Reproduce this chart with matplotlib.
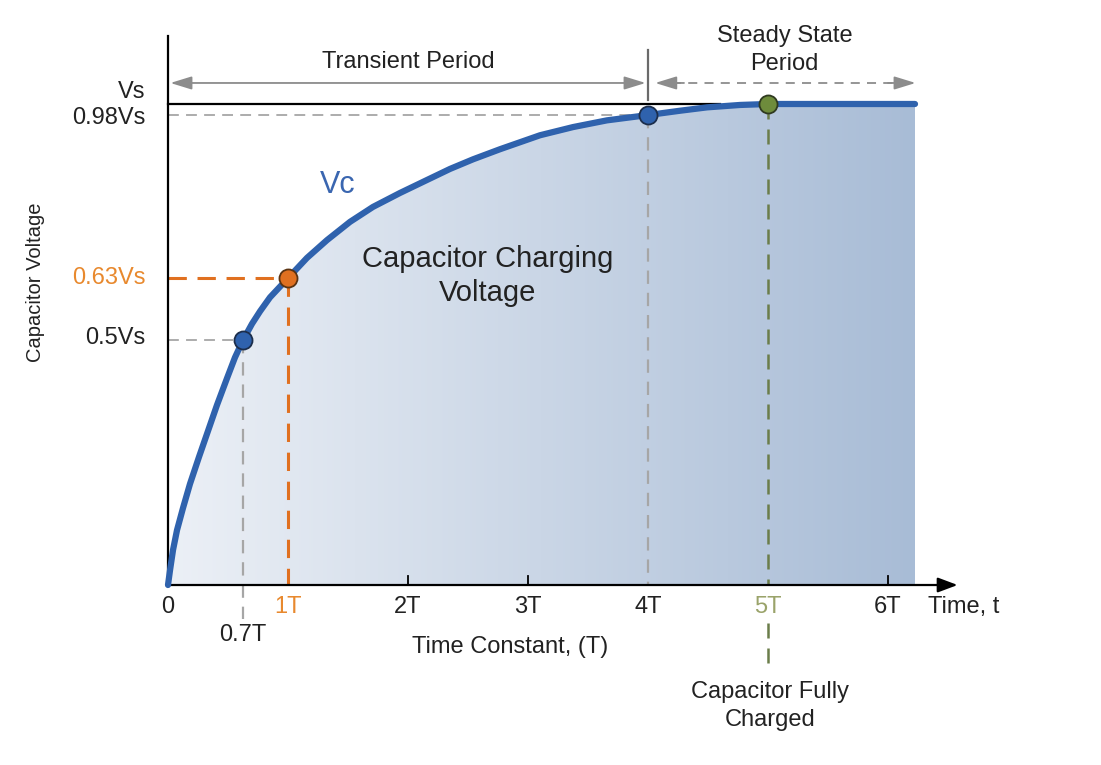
import numpy as np
import matplotlib.pyplot as plt
from matplotlib.patches import Polygon

plt.rcParams["font.family"] = ["Liberation Sans", "DejaVu Sans"]

# curve (time in T, voltage as fraction of Vs)
t_curve = [0.0, 0.017, 0.042, 0.075, 0.125, 0.183, 0.258, 0.333, 0.408,
           0.492, 0.558, 0.625, 0.7, 0.767, 0.85, 1.0, 1.158, 1.325, 1.517,
           1.708, 1.933, 2.158, 2.35, 2.542, 2.767, 3.1, 3.375, 3.658, 4.0,
           4.267, 4.492, 4.767, 5.0, 6.225]
v_curve = [0.0, 0.031, 0.073, 0.114, 0.160, 0.210, 0.266, 0.320, 0.374,
           0.430, 0.473, 0.509, 0.543, 0.569, 0.598, 0.638, 0.680, 0.717,
           0.755, 0.786, 0.815, 0.842, 0.865, 0.885, 0.906, 0.935, 0.952,
           0.966, 0.977, 0.986, 0.993, 0.998, 1.0, 1.0]

# marked points
pt_t = [0.625, 1.0, 4.0, 5.0]
pt_v = [0.509, 0.638, 0.977, 1.0]
pt_colors = ["#2f62ad", "#e07020", "#2f62ad", "#6e8c3c"]
pt_edges = ["#1c2e4c", "#5a3312", "#1c2e4c", "#2f3a20"]

x_ticks = [0, 1, 2, 3, 4, 5, 6]
x_labels = ["0", "1T", "2T", "3T", "4T", "5T", "6T"]
x_label_colors = ["#222222", "#e8892e", "#222222", "#222222", "#222222",
                  "#9aa36a", "#222222"]
y_labels = ["Vs", "0.98Vs", "0.63Vs", "0.5Vs"]
y_label_pos = [1.025, 0.971, 0.638, 0.5135]
y_label_colors = ["#222222", "#222222", "#e8892e", "#222222"]

fig = plt.figure(figsize=(11.01, 7.65), dpi=100)
ax = fig.add_axes([0, 0, 1, 1])
ax.set_xlim(-1.4, 7.775)
ax.set_ylim(-0.3742, 1.2162)
ax.axis("off")

# gradient fill under the curve
grad = np.linspace(0, 1, 256)[None, :]
c0 = np.array([236, 240, 246]) / 255
c1 = np.array([168, 188, 214]) / 255
img = c0 + (c1 - c0) * grad[..., None]
im = ax.imshow(img, extent=[0, t_curve[-1], 0, 1.0], aspect="auto",
               origin="lower", zorder=1)
poly = Polygon(list(zip(t_curve, v_curve)) + [(t_curve[-1], 0), (0, 0)],
               closed=True, facecolor="none", edgecolor="none")
ax.add_patch(poly)
im.set_clip_path(poly)

gray = "#a6a6a6"
# Vs level line and 0.98 dashed line
ax.plot([0, 4.6], [1.0, 1.0], color="black", lw=1.6, zorder=3)
ax.plot([0, pt_t[2]], [pt_v[2], pt_v[2]], color=gray, lw=1.3,
        dashes=(6, 4), zorder=2)
# 0.5Vs guides
ax.plot([0, pt_t[0]], [pt_v[0], pt_v[0]], color=gray, lw=1.3, dashes=(6, 4), zorder=2)
ax.plot([pt_t[0], pt_t[0]], [pt_v[0], -0.07], color=gray, lw=1.6, dashes=(6, 4), zorder=2)
# 0.63Vs guides
ax.plot([0, pt_t[1]], [pt_v[1], pt_v[1]], color="#e07020", lw=2.2,
        dashes=(6, 3.5), zorder=2)
ax.plot([pt_t[1], pt_t[1]], [pt_v[1], 0], color="#e07020", lw=2.2,
        dashes=(6, 3.5), zorder=2)
# 4T guide
ax.plot([pt_t[2], pt_t[2]], [pt_v[2], 0], color=gray, lw=1.6, dashes=(6, 4), zorder=2)
# 5T guide, broken around its label
green = "#6b7d4a"
ax.plot([pt_t[3], pt_t[3]], [pt_v[3], 0], color=green, lw=1.8,
        dashes=(6, 4), zorder=2)
ax.plot([pt_t[3], pt_t[3]], [-0.08, -0.177], color=green, lw=1.8,
        dashes=(6, 4), zorder=2)

# axes
ax.plot([0, 0], [0, 1.141], color="black", lw=1.6, zorder=4)
ax.annotate("", xy=(6.58, 0), xytext=(0, 0),
            arrowprops=dict(arrowstyle="-|>,head_length=1.2,head_width=0.45",
                            color="black", lw=1.6, shrinkA=0, shrinkB=0), zorder=4)
for tk in [2, 3, 6]:
    ax.plot([tk, tk], [0, 0.018], color="black", lw=1.3, zorder=4)

# curve and points
ax.plot(t_curve, v_curve, color="#2f62ad", lw=4.5, solid_capstyle="round",
        solid_joinstyle="round", zorder=5)
for tx, vy, fc, ec in zip(pt_t, pt_v, pt_colors, pt_edges):
    ax.plot(tx, vy, "o", ms=13, mfc=fc, mec=ec, mew=1.3, zorder=6)

# period arrows
arrow_gray = "#8c8c8c"
ax.annotate("", xy=(0.02, 1.0437), xytext=(3.98, 1.0437),
            arrowprops=dict(arrowstyle="<|-|>,head_length=1.3,head_width=0.4",
                            color=arrow_gray, lw=1.3, shrinkA=0, shrinkB=0))
ax.plot([4.0, 4.0], [1.008, 1.112], color="#6a6a6a", lw=1.6)
ax.plot([4.2, 6.05], [1.0437, 1.0437], color=arrow_gray, lw=1.3, dashes=(5, 4))
ax.annotate("", xy=(4.06, 1.0437), xytext=(4.3, 1.0437),
            arrowprops=dict(arrowstyle="-|>,head_length=1.3,head_width=0.4",
                            color=arrow_gray, lw=1.3, shrinkA=0, shrinkB=0))
ax.annotate("", xy=(6.23, 1.0437), xytext=(6.0, 1.0437),
            arrowprops=dict(arrowstyle="-|>,head_length=1.3,head_width=0.4",
                            color=arrow_gray, lw=1.3, shrinkA=0, shrinkB=0))

# text
txt = "#222222"
fs = 17
for tx, lab, col in zip(x_ticks, x_labels, x_label_colors):
    ax.text(tx, -0.0457, lab, ha="center", va="center", fontsize=fs, color=col)
ax.text(pt_t[0], -0.104, "0.7T", ha="center", va="center", fontsize=fs, color=txt)
ax.text(6.33, -0.0457, "Time, t", ha="left", va="center", fontsize=fs, color=txt)
ax.text(2.85, -0.129, "Time Constant, (T)", ha="center", va="center",
        fontsize=fs, color=txt)
ax.text(5.017, -0.251, "Capacitor Fully\nCharged", ha="center", va="center",
        fontsize=fs, color=txt, linespacing=1.35)
for yp, lab, col in zip(y_label_pos, y_labels, y_label_colors):
    ax.text(-0.19, yp, lab, ha="right", va="center", fontsize=fs, color=col)
ax.text(-1.108, 0.63, "Capacitor Voltage", rotation=90, ha="center",
        va="center", fontsize=14.5, color=txt)
ax.text(2.0, 1.087, "Transient Period", ha="center", va="center",
        fontsize=fs, color=txt)
ax.text(5.14, 1.112, "Steady State\nPeriod", ha="center", va="center",
        fontsize=fs, color=txt, linespacing=1.35)
ax.text(1.417, 0.832, "Vc", ha="center", va="center", fontsize=22,
        color="#3a66b0")
ax.text(2.66, 0.642, "Capacitor Charging\nVoltage", ha="center", va="center",
        fontsize=21, color=txt, linespacing=1.26)

fig.savefig("out.png", dpi=100)
